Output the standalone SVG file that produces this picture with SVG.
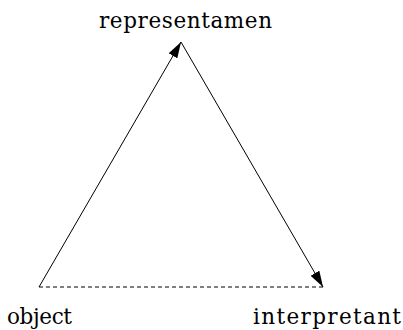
<svg xmlns="http://www.w3.org/2000/svg" width="403" height="330" viewBox="0 0 403 330">
<style>
.lbl{font-family:"DejaVu Serif","Liberation Serif",serif;font-size:21.5px;font-weight:normal;fill:#000}
.edge{stroke:#000;stroke-width:1;fill:none}
</style>
<defs>
<marker id="arr" markerUnits="userSpaceOnUse" markerWidth="18" markerHeight="11" refX="16" refY="5" orient="auto" viewBox="0 0 18 11">
<path d="M0,0 L16,5 L0,10 z" fill="#000"/>
</marker>
</defs>
<rect width="403" height="330" fill="#fff"/>
<g id="connectors">
<line class="edge" x1="39" y1="287" x2="181" y2="42" marker-end="url(#arr)"/>
<line class="edge" x1="181" y1="42" x2="323" y2="287" marker-end="url(#arr)"/>
<line class="edge" x1="39" y1="287" x2="323" y2="287" stroke-dasharray="4,3"/>
</g>
<g id="representamen"><text class="lbl" x="99" y="28" textLength="173" lengthAdjust="spacing">representamen</text></g>
<g id="object"><text class="lbl" x="7" y="324" textLength="65" lengthAdjust="spacing">object</text></g>
<g id="interpretant"><text class="lbl" x="253" y="324" textLength="148" lengthAdjust="spacing">interpretant</text></g>
</svg>
